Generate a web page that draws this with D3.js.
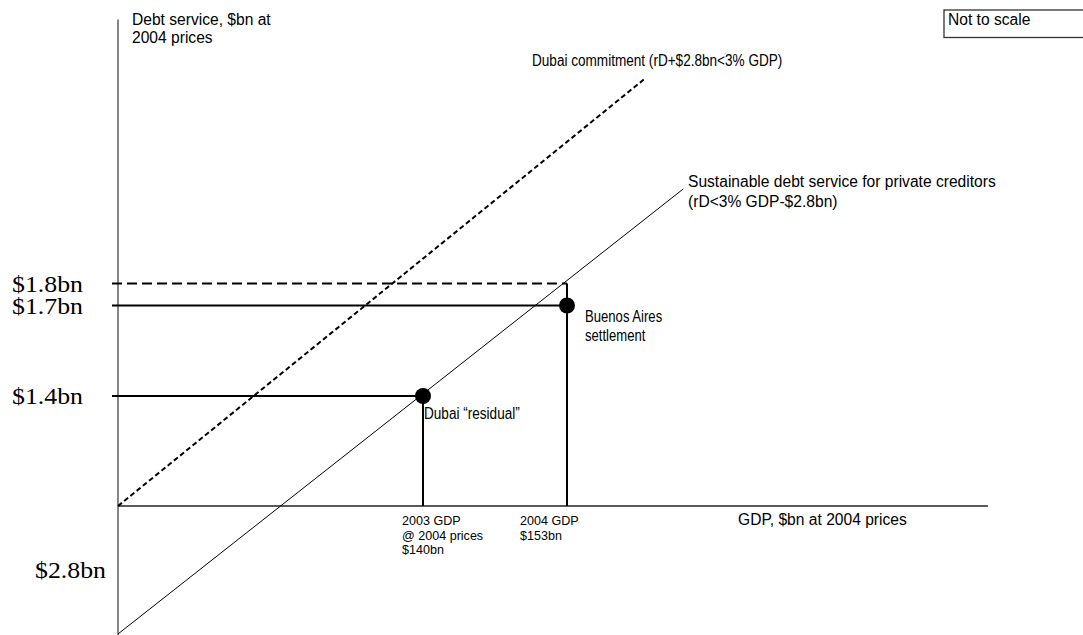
<!DOCTYPE html>
<html>
<head>
<meta charset="utf-8">
<script src="https://cdn.jsdelivr.net/npm/d3@7"></script>
<style>
  body { margin: 0; background: #fff; }
  text { font-family: Arial, "Liberation Sans", sans-serif; font-size: 15.6px; fill: #000; }
  .ylab { font-family: "Times New Roman", "Liberation Serif", serif; font-size: 23px; }
  .tick { font-size: 13.5px; }
</style>
</head>
<body>
<svg width="1083" height="635"></svg>
<script>
// schematic values (chart is "not to scale")
var gdpTicks = [0, 140, 153];              // GDP, $bn at 2004 prices
var debtTicks = [-2.8, 0, 1.4, 1.7, 1.8];  // debt service, $bn
var gdpMax = 191, debtMax = 3.0;

var yLabels = [
  {v: 1.8, t: "$1.8bn"},
  {v: 1.7, t: "$1.7bn"},
  {v: 1.4, t: "$1.4bn"},
  {v: -1.4, t: "$2.8bn"}
];

// points: Dubai "residual" and Buenos Aires settlement
var points = [
  {gdp: 140, debt: 1.4},
  {gdp: 153, debt: 1.7}
];

// horizontal guides: debt level, gdp at which they stop, dashed?
var hGuides = [
  {debt: 1.8, gdp: 153, dashed: true},
  {debt: 1.7, gdp: 153, dashed: false},
  {debt: 1.4, gdp: 140, dashed: false}
];
var vGuides = [
  {gdp: 140, debt: 1.4},
  {gdp: 153, debt: 1.8}
];

// the two sloping lines (end points)
var sustainable = [[0, -2.8], [163.5, 2.23]];
var dubai = [[0, 0], [160, 2.73]];

var xLabels = [
  {gdp: 140, lines: ["2003 GDP", "@ 2004 prices", "$140bn"], dx: -21},
  {gdp: 153, lines: ["2004 GDP", "$153bn"], dx: -47}
];

function main(){
    var svg = d3.select("svg");

    // piecewise scales, because the picture is not to scale
    var xScale = d3.scaleLinear().domain(gdpTicks).range([118, 423, 567]);
    var yScale = d3.scaleLinear().domain(debtTicks).range([634, 506, 396, 305.5, 283.5]);

    var line = d3.line()
        .x(function(d){return xScale(d[0]);})
        .y(function(d){return yScale(d[1]);});

    // axes
    svg.append("line")
        .attr("x1", xScale(0)).attr("x2", xScale(0))
        .attr("y1", yScale(debtMax)).attr("y2", 635)
        .attr("stroke", "#444").attr("stroke-width", 1.3);
    svg.append("line")
        .attr("x1", xScale(0)).attr("x2", xScale(gdpMax))
        .attr("y1", yScale(0)).attr("y2", yScale(0))
        .attr("stroke", "#222").attr("stroke-width", 1.3);

    // horizontal guides
    svg.selectAll(".hg")
        .data(hGuides)
        .enter()
        .append("line")
        .attr("class", "hg")
        .attr("x1", xScale(0) - 6)
        .attr("x2", function(d){return xScale(d.gdp);})
        .attr("y1", function(d){return yScale(d.debt);})
        .attr("y2", function(d){return yScale(d.debt);})
        .attr("stroke", "#000")
        .attr("stroke-width", 2)
        .attr("stroke-dasharray", function(d){return d.dashed ? "10,5" : null;});

    // vertical guides
    svg.selectAll(".vg")
        .data(vGuides)
        .enter()
        .append("line")
        .attr("class", "vg")
        .attr("x1", function(d){return xScale(d.gdp);})
        .attr("x2", function(d){return xScale(d.gdp);})
        .attr("y1", function(d){return yScale(d.debt);})
        .attr("y2", yScale(0))
        .attr("stroke", "#000")
        .attr("stroke-width", 2);

    // sloping lines
    svg.append("path")
        .attr("d", line(sustainable))
        .attr("fill", "none").attr("stroke", "#000").attr("stroke-width", 1);
    svg.append("path")
        .attr("d", line(dubai))
        .attr("fill", "none").attr("stroke", "#000").attr("stroke-width", 2)
        .attr("stroke-dasharray", "5,3");

    // points
    svg.selectAll(".pt")
        .data(points)
        .enter()
        .append("circle")
        .attr("class", "pt")
        .attr("cx", function(d){return xScale(d.gdp);})
        .attr("cy", function(d){return yScale(d.debt);})
        .attr("r", 8)
        .attr("fill", "#000");

    // y labels
    svg.selectAll(".ylab")
        .data(yLabels)
        .enter()
        .append("text")
        .attr("class", "ylab")
        .attr("x", function(d){return d.v < 0 ? 35 : 12;})
        .attr("y", function(d){return yScale(d.v) + 8;})
        .attr("textLength", 71)
        .attr("lengthAdjust", "spacingAndGlyphs")
        .text(function(d){return d.t;});

    // text helper; squeeze < 1 gives a condensed look
    function note(x, y, lines, gap, squeeze, cls){
        var t = svg.append("text").attr("x", x).attr("y", y).attr("class", cls || null);
        lines.forEach(function(s, i){
            var ts = t.append("tspan").attr("x", x).attr("dy", i == 0 ? 0 : gap).text(s);
            if (squeeze) {
                var w = ts.node().getComputedTextLength();
                ts.attr("textLength", w * squeeze).attr("lengthAdjust", "spacingAndGlyphs");
            }
        });
        return t;
    }

    // x labels
    xLabels.forEach(function(l){
        note(xScale(l.gdp) + l.dx, yScale(0) + 19, l.lines, 14.5, 0.93, "tick");
    });

    // annotations
    note(132, 25, ["Debt service, $bn at", "2004 prices"], 18);
    note(738, 525, ["GDP, $bn at 2004 prices"], 18);
    note(532, 66, ["Dubai commitment (rD+$2.8bn<3% GDP)"], 18, 0.87);
    note(688, 187, ["Sustainable debt service for private creditors", "(rD<3% GDP-$2.8bn)"], 20);
    note(585, 322, ["Buenos Aires", "settlement"], 19, 0.84);
    note(xScale(140) + 1, 419, ["Dubai \u201cresidual\u201d"], 18, 0.87);

    // "Not to scale" box
    svg.append("rect")
        .attr("x", 944).attr("y", 10)
        .attr("width", 160).attr("height", 27.5)
        .attr("fill", "none").attr("stroke", "#333").attr("stroke-width", 1.3);
    note(948, 25, ["Not to scale"], 18);
}
main();
</script>
</body>
</html>
